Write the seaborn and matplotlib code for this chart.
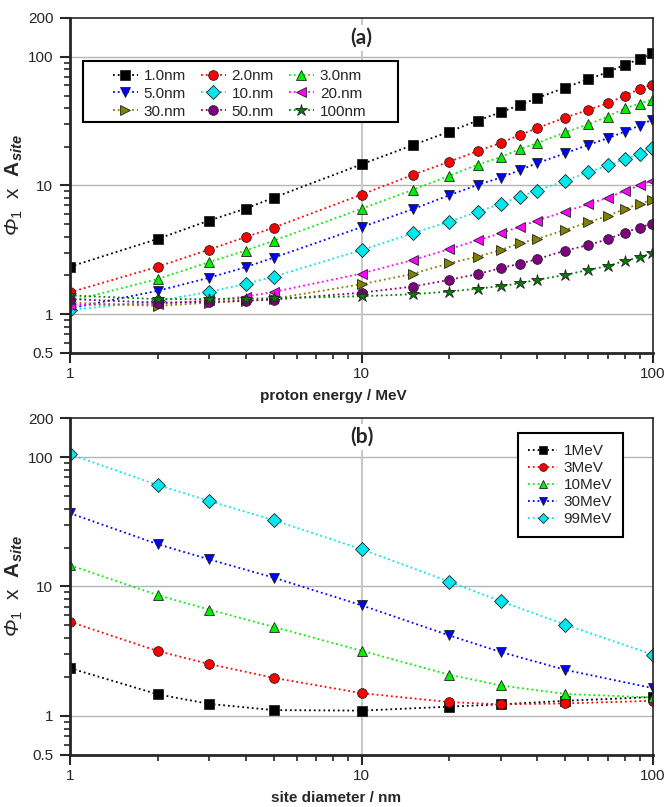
import numpy as np
import pandas as pd
import matplotlib
matplotlib.use("Agg")
import matplotlib.pyplot as plt
import matplotlib.ticker as mticker
from matplotlib.patches import Rectangle
import seaborn as sns

# ---- data: panel (a), value vs proton energy for each site size ----
energy = [1, 2, 3, 4, 5, 10, 15, 20, 25, 30, 35, 40, 50, 60, 70, 80, 90, 99]
size_labels = ['1.0nm', '2.0nm', '3.0nm', '5.0nm', '10.nm', '20.nm', '30.nm', '50.nm', '100nm']
s_1nm = [2.34, 3.85, 5.34, 6.61, 8.05, 14.6, 20.6, 26.2, 31.9, 37.0, 42.3, 47.7, 57.6, 67.0, 75.9, 86.5, 96.3, 106]
s_2nm = [1.48, 2.34, 3.18, 3.97, 4.71, 8.5, 12.1, 15.3, 18.5, 21.4, 24.7, 27.9, 33.7, 38.7, 43.6, 50.0, 56.0, 60.8]
s_3nm = [1.26, 1.88, 2.54, 3.12, 3.73, 6.6, 9.25, 11.9, 14.5, 16.6, 19.2, 21.3, 25.9, 29.9, 34.3, 39.8, 43.3, 46.5]
s_5nm = [1.11, 1.52, 1.92, 2.32, 2.75, 4.75, 6.55, 8.4, 10.1, 11.5, 13.2, 14.9, 17.8, 20.7, 23.3, 26.2, 29.2, 32.4]
s_10nm = [1.08, 1.27, 1.49, 1.72, 1.96, 3.15, 4.26, 5.24, 6.24, 7.2, 8.2, 9.13, 10.9, 12.7, 14.3, 16.0, 17.6, 19.5]
s_20nm = [1.18, 1.20, 1.28, 1.37, 1.49, 2.07, 2.64, 3.2, 3.76, 4.25, 4.8, 5.34, 6.27, 7.16, 8.05, 9.08, 10.0, 10.9]
s_30nm = [1.23, 1.16, 1.23, 1.27, 1.32, 1.71, 2.06, 2.49, 2.8, 3.15, 3.56, 3.85, 4.52, 5.19, 5.8, 6.58, 7.2, 7.73]
s_50nm = [1.31, 1.23, 1.25, 1.27, 1.30, 1.47, 1.64, 1.85, 2.05, 2.28, 2.47, 2.68, 3.12, 3.45, 3.83, 4.31, 4.71, 5.05]
s_100nm = [1.40, 1.31, 1.31, 1.32, 1.33, 1.38, 1.43, 1.50, 1.58, 1.65, 1.74, 1.85, 2.02, 2.21, 2.37, 2.6, 2.77, 2.98]

# ---- data: panel (b), value vs site diameter for each energy ----
diameter = [1, 2, 3, 5, 10, 20, 30, 50, 100]
energy_labels = ['1MeV', '3MeV', '10MeV', '30MeV', '99MeV']
e_1 = [2.34, 1.47, 1.24, 1.11, 1.10, 1.18, 1.23, 1.31, 1.40]
e_3 = [5.33, 3.17, 2.52, 1.97, 1.50, 1.28, 1.23, 1.25, 1.31]
e_10 = [14.6, 8.57, 6.63, 4.87, 3.19, 2.08, 1.72, 1.48, 1.39]
e_30 = [36.8, 21.2, 16.2, 11.7, 7.16, 4.19, 3.12, 2.27, 1.64]
e_99 = [105, 60.7, 45.8, 32.5, 19.4, 10.9, 7.7, 5.07, 2.97]

colors = ['#000000', '#ff0000', '#00f000', '#0000ff', '#00e8ee',
          '#ff00ff', '#808000', '#800080', '#008000']
markers = ['s', 'o', '^', 'v', 'D', '<', '>', 'o', '*']

sns.set_style("ticks")
plt.rcParams['font.family'] = ['Liberation Sans', 'DejaVu Sans']
plt.rcParams['mathtext.fontset'] = 'custom'
plt.rcParams['mathtext.rm'] = 'Liberation Sans:italic'
plt.rcParams['mathtext.sf'] = 'Liberation Sans'
plt.rcParams['mathtext.it'] = 'Liberation Sans:italic'
plt.rcParams['mathtext.bf'] = 'Liberation Sans:bold'
plt.rcParams['mathtext.bfit'] = 'Liberation Sans:italic:bold'

fig = plt.figure(figsize=(6.67, 8.07), dpi=100)
ax_a = fig.add_axes([0.105, 0.5626, 0.874, 0.4151])
ax_b = fig.add_axes([0.105, 0.0645, 0.874, 0.4175])

df_a = pd.DataFrame({'x': energy * 9,
                     'y': s_1nm + s_2nm + s_3nm + s_5nm + s_10nm + s_20nm + s_30nm + s_50nm + s_100nm,
                     'series': np.repeat(size_labels, len(energy))})
df_b = pd.DataFrame({'x': diameter * 5,
                     'y': e_1 + e_3 + e_10 + e_30 + e_99,
                     'series': np.repeat(energy_labels, len(diameter))})


def draw_panel(ax, df, labels):
    for i, lab in enumerate(labels):
        sub = df[df['series'] == lab]
        sns.lineplot(data=sub, x='x', y='y', ax=ax, color=colors[i], marker=markers[i],
                     linestyle=':', linewidth=1.3, markersize=9 if markers[i] == '*' else 7,
                     markeredgecolor='#222222', markeredgewidth=0.6, label=lab,
                     estimator=None, sort=False, legend=True)
    ax.set_xscale('log')
    ax.set_yscale('log')
    ax.set_xlim(1, 100)
    ax.set_ylim(0.5, 200)
    ax.set_xticks([1, 10, 100])
    ax.set_xticklabels(['1', '10', '100'])
    ax.set_yticks([0.5, 1, 10, 100, 200])
    ax.set_yticklabels(['0.5', '1', '10', '100', '200'])
    ax.xaxis.set_minor_locator(mticker.LogLocator(base=10, subs=np.arange(2, 10)))
    ax.yaxis.set_minor_locator(mticker.LogLocator(base=10, subs=np.arange(2, 10)))
    ax.yaxis.set_minor_formatter(mticker.NullFormatter())
    ax.xaxis.set_minor_formatter(mticker.NullFormatter())
    for v in [1, 10, 100]:
        ax.axhline(v, color='#b4b4b4', linewidth=1.0, zorder=0)
    ax.axvline(10, color='#c8c8c8', linewidth=1.5, zorder=0)
    ax.tick_params(axis='both', which='major', direction='out', length=7, width=1.5,
                   labelsize=11, top=False, right=False)
    ax.tick_params(axis='x', which='major', pad=3)
    ax.tick_params(axis='y', which='major', pad=5)
    ax.tick_params(axis='both', which='minor', direction='out', length=4, width=1.2,
                   top=False, right=False)
    ax.spines['left'].set_linewidth(2)
    ax.spines['bottom'].set_linewidth(2)
    ax.spines['top'].set_linewidth(1.2)
    ax.spines['right'].set_linewidth(1.2)
    ax.set_ylabel(r'$\Phi_{\mathsf{1}}\mathsf{\ \ x\ \ }\mathbf{A}_{\mathbfit{site}}$',
                  fontsize=15, labelpad=2)


draw_panel(ax_a, df_a, size_labels)
draw_panel(ax_b, df_b, energy_labels)

ax_a.set_xlabel('proton energy / MeV', fontsize=11, fontweight='bold', labelpad=6, x=0.452)
ax_b.set_xlabel('site diameter / nm', fontsize=11, fontweight='bold', labelpad=6, x=0.456)

# panel letters
for ax, letter, yy in [(ax_a, '(a)', 0.94), (ax_b, '(b)', 0.944)]:
    ax.text(10, yy, letter, transform=ax.get_xaxis_transform(), ha='center', va='center',
            fontsize=15, fontweight='bold', family='Lato',
            bbox=dict(facecolor='white', edgecolor='none', pad=2))

# legend (a): frame drawn separately (wide side padding), row-wise ordering in 3 columns
ax_a.add_patch(Rectangle((0.0223, 0.6896), 0.540, 0.182, transform=ax_a.transAxes,
                         facecolor='white', edgecolor='black', linewidth=1.5, zorder=4.5))
h, l = ax_a.get_legend_handles_labels()
order = [0, 3, 6, 1, 4, 7, 2, 5, 8]
leg_a = ax_a.legend([h[k] for k in order], [l[k] for k in order], ncol=3,
                    loc='upper left', bbox_to_anchor=(0.0738, 0.848), borderaxespad=0,
                    borderpad=0, fontsize=11, frameon=False, handlelength=1.6,
                    handletextpad=0.4, columnspacing=1.0, labelspacing=0.25)
leg_a.set_zorder(6)

leg_b = ax_b.legend(loc='upper right', bbox_to_anchor=(0.948, 0.955), borderaxespad=0,
                    fontsize=11, frameon=True, fancybox=False, edgecolor='black',
                    framealpha=1, handlelength=1.9, handletextpad=0.4, labelspacing=0.2,
                    borderpad=0.7, markerscale=0.8)
leg_b.get_frame().set_linewidth(1.5)

fig.savefig('out.png', dpi=100)
